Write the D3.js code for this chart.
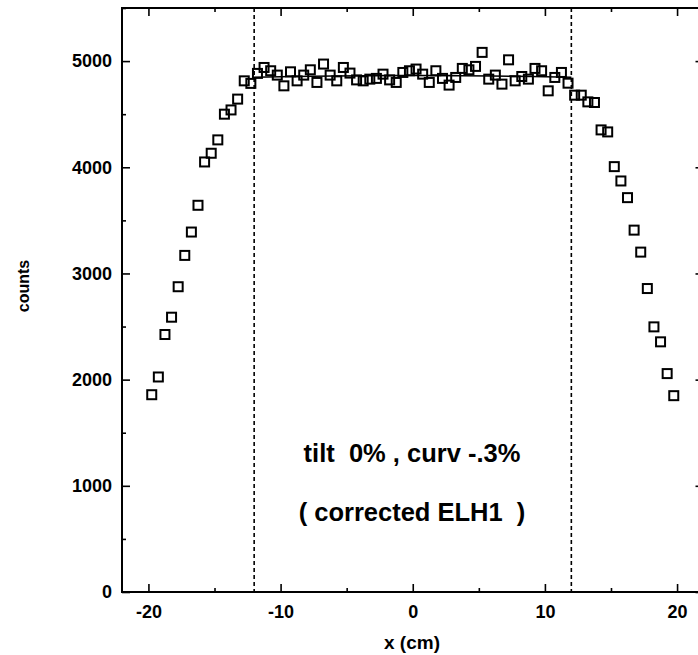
<!DOCTYPE html>
<html>
<head>
<meta charset="utf-8">
<script src="https://cdn.jsdelivr.net/npm/d3@7"></script>
<style>
  html, body { margin: 0; padding: 0; background: #fff; }
  svg { display: block; }
  text { font-family: "Liberation Sans", Arial, Helvetica, sans-serif; font-weight: bold; fill: #000; }
</style>
</head>
<body>
<svg id="chart" width="698" height="655"></svg>
<script>
// ---- data ----
const positions = [
  -19.75, -19.25, -18.75, -18.25, -17.75, -17.25, -16.75, -16.25, -15.75, -15.25,
  -14.75, -14.25, -13.75, -13.25, -12.75, -12.25, -11.75, -11.25, -10.75, -10.25,
  -9.75, -9.25, -8.75, -8.25, -7.75, -7.25, -6.75, -6.25, -5.75, -5.25,
  -4.75, -4.25, -3.75, -3.25, -2.75, -2.25, -1.75, -1.25, -0.75, -0.25,
  0.25, 0.75, 1.25, 1.75, 2.25, 2.75, 3.25, 3.75, 4.25, 4.75,
  5.25, 5.75, 6.25, 6.75, 7.25, 7.75, 8.25, 8.75, 9.25, 9.75,
  10.25, 10.75, 11.25, 11.75, 12.25, 12.75, 13.25, 13.75, 14.25, 14.75,
  15.25, 15.75, 16.25, 16.75, 17.25, 17.75, 18.25, 18.75, 19.25, 19.75
];
const counts = [
  1858, 2025, 2425, 2588, 2875, 3170, 3390, 3642, 4050, 4132,
  4258, 4500, 4540, 4642, 4814, 4790, 4884, 4940, 4909, 4868,
  4767, 4899, 4814, 4868, 4918, 4799, 4972, 4868, 4814, 4940,
  4887, 4823, 4814, 4830, 4837, 4877, 4823, 4799, 4893, 4909,
  4925, 4877, 4799, 4909, 4837, 4774, 4846, 4931, 4918, 4950,
  5082, 4830, 4868, 4783, 5012, 4814, 4855, 4830, 4931, 4909,
  4720, 4846, 4893, 4792, 4679, 4679, 4616, 4610, 4352, 4333,
  4006, 3871, 3714, 3408, 3201, 2858, 2497, 2356, 2057, 1849
];
// fitted curve (tilt 0%, curv -.3%) over the fit region
const fitX = [-12, -9, -6, -3, 0, 3, 6, 9, 12];
const fitY = [4848, 4855, 4860, 4863, 4864, 4863, 4860, 4855, 4848];
// fit-region boundaries
const cutLines = [-12, 12];

const xMajorTicks = [-20, -10, 0, 10, 20];
const xMinorTicks = [-15, -5, 5, 15];
const yMajorTicks = [0, 1000, 2000, 3000, 4000, 5000];
const yMinorTicks = [500, 1500, 2500, 3500, 4500, 5500];

const xLabel = "x (cm)";
const yLabel = "counts";
const note1 = "tilt  0% , curv -.3%";
const note2 = "( corrected ELH1  )";

// ---- layout ----
const svg = d3.select("#chart");
svg.append("rect").attr("width", 698).attr("height", 655).attr("fill", "#fff");

const L = 122, R = 703.5, T = 8, B = 592;
const x = d3.scaleLinear().domain([-22, 22]).range([L, R]);
const y = d3.scaleLinear().domain([0, 5500]).range([B, T]);
const fmt = d => String(d);

const axisStroke = 2;
function styleAxis(g) {
  g.select(".domain").remove();
  g.selectAll(".tick line").attr("stroke", "#000").attr("stroke-width", 1.6);
  g.selectAll(".tick text").style("font-size", "18px").style("font-weight", "bold")
    .style("font-family", '"Liberation Sans", Arial, sans-serif').attr("fill", "#000");
}

// bottom
svg.append("g").attr("transform", `translate(0,${B})`)
  .call(d3.axisBottom(x).tickValues(xMajorTicks).tickSizeInner(-8).tickSizeOuter(0).tickPadding(13).tickFormat(fmt))
  .call(styleAxis);
svg.append("g").attr("transform", `translate(0,${B})`)
  .call(d3.axisBottom(x).tickValues(xMinorTicks).tickSizeInner(-4).tickSizeOuter(0).tickFormat(""))
  .call(styleAxis);
// top
svg.append("g").attr("transform", `translate(0,${T})`)
  .call(d3.axisTop(x).tickValues(xMajorTicks).tickSizeInner(-8).tickSizeOuter(0).tickFormat(""))
  .call(styleAxis);
svg.append("g").attr("transform", `translate(0,${T})`)
  .call(d3.axisTop(x).tickValues(xMinorTicks).tickSizeInner(-4).tickSizeOuter(0).tickFormat(""))
  .call(styleAxis);
// left
svg.append("g").attr("transform", `translate(${L},0)`)
  .call(d3.axisLeft(y).tickValues(yMajorTicks).tickSizeInner(-8).tickSizeOuter(0).tickPadding(10).tickFormat(fmt))
  .call(styleAxis);
svg.append("g").attr("transform", `translate(${L},0)`)
  .call(d3.axisLeft(y).tickValues(yMinorTicks).tickSizeInner(-4).tickSizeOuter(0).tickFormat(""))
  .call(styleAxis);
// right
svg.append("g").attr("transform", `translate(${R},0)`)
  .call(d3.axisRight(y).tickValues(yMajorTicks).tickSizeInner(-8).tickSizeOuter(0).tickFormat(""))
  .call(styleAxis);
svg.append("g").attr("transform", `translate(${R},0)`)
  .call(d3.axisRight(y).tickValues(yMinorTicks).tickSizeInner(-4).tickSizeOuter(0).tickFormat(""))
  .call(styleAxis);

// frame
svg.append("rect").attr("x", L).attr("y", T).attr("width", R - L).attr("height", B - T)
  .attr("fill", "none").attr("stroke", "#000").attr("stroke-width", axisStroke);

// dashed fit-region boundaries
svg.selectAll("line.cut").data(cutLines).join("line").attr("class", "cut")
  .attr("x1", d => x(d)).attr("x2", d => x(d)).attr("y1", T).attr("y2", B)
  .attr("stroke", "#000").attr("stroke-width", 1.6).attr("stroke-dasharray", "4,3");

// fit line
const line = d3.line().x((d, i) => x(fitX[i])).y(d => y(d)).curve(d3.curveMonotoneX);
svg.append("path").datum(fitY).attr("d", line)
  .attr("fill", "none").attr("stroke", "#000").attr("stroke-width", 1.6);

// markers
const s = 9;
svg.selectAll("rect.pt").data(counts).join("rect").attr("class", "pt")
  .attr("x", (d, i) => x(positions[i]) - s / 2).attr("y", d => y(d) - s / 2)
  .attr("width", s).attr("height", s)
  .attr("fill", "none").attr("stroke", "#000").attr("stroke-width", 2);

// notes
svg.append("text").attr("x", 412).attr("y", 462).attr("text-anchor", "middle")
  .style("font-size", "25.5px").style("white-space", "pre").text(note1);
svg.append("text").attr("x", 412).attr("y", 521).attr("text-anchor", "middle")
  .style("font-size", "25.5px").style("white-space", "pre").text(note2);

// axis titles
svg.append("text").attr("x", 412).attr("y", 649).attr("text-anchor", "middle")
  .style("font-size", "19px").text(xLabel);
svg.append("text").attr("transform", "translate(29,286) rotate(-90)").attr("text-anchor", "middle")
  .style("font-size", "16px").text(yLabel);
</script>
</body>
</html>
